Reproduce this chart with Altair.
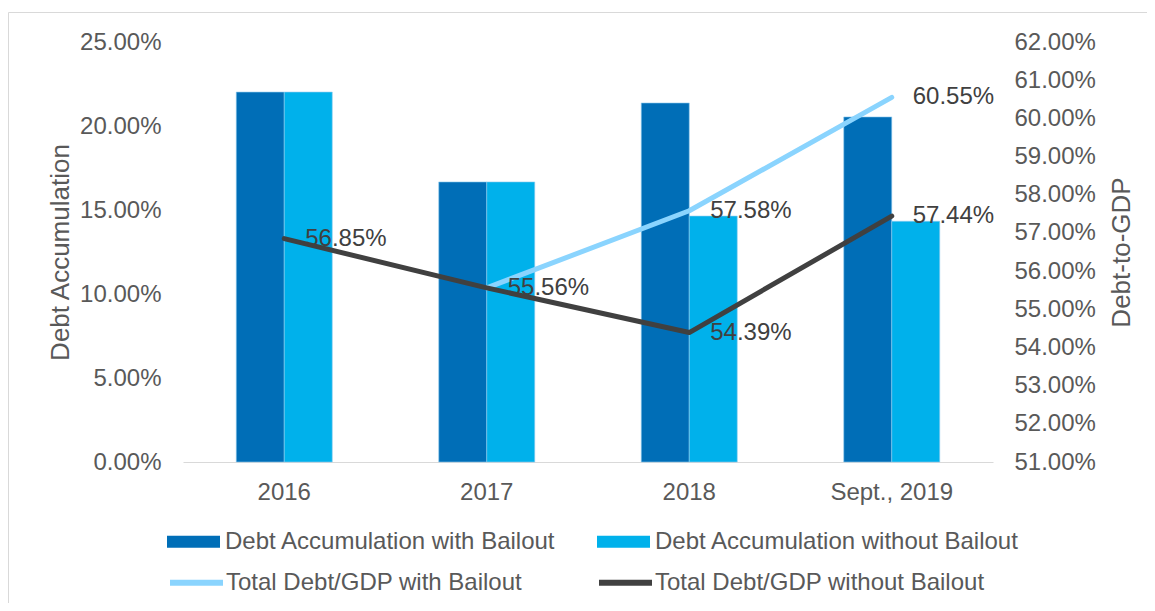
import altair as alt
import pandas as pd

# ---------------- data ----------------
categories = ["2016", "2017", "2018", "Sept., 2019"]
bar_series = ["Debt Accumulation with Bailout", "Debt Accumulation without Bailout"]
line_series = ["Total Debt/GDP with Bailout", "Total Debt/GDP without Bailout"]

debt_with_bailout = [0.2202, 0.1667, 0.2137, 0.2054]
debt_without_bailout = [0.2202, 0.1667, 0.1464, 0.1433]

gdp_with_cats = ["2017", "2018", "Sept., 2019"]
gdp_with_bailout = [0.5556, 0.5758, 0.6055]
gdp_without_cats = ["2016", "2017", "2018", "Sept., 2019"]
gdp_without_bailout = [0.5685, 0.5556, 0.5439, 0.5744]

left_ticks = [0.0, 0.05, 0.10, 0.15, 0.20, 0.25]
right_ticks = [0.51, 0.52, 0.53, 0.54, 0.55, 0.56, 0.57, 0.58, 0.59, 0.60, 0.61, 0.62]

bar_colors = ["#006EB7", "#00B1EB"]
line_colors = ["#8AD4FE", "#404040"]

# ---------------- tables ----------------
bar_df = pd.DataFrame(
    [{"cat": c, "series": bar_series[0], "value": v} for c, v in zip(categories, debt_with_bailout)]
    + [{"cat": c, "series": bar_series[1], "value": v} for c, v in zip(categories, debt_without_bailout)]
)
line_df = pd.DataFrame(
    [{"cat": c, "series": line_series[0], "value": v} for c, v in zip(gdp_with_cats, gdp_with_bailout)]
    + [{"cat": c, "series": line_series[1], "value": v} for c, v in zip(gdp_without_cats, gdp_without_bailout)]
)
label_df = line_df.drop_duplicates(subset=["cat", "value"])
frame_df = pd.DataFrame({"k": [0]})

FONT = "Liberation Sans"
GREY = "#595959"
W, H = 810, 420

x_enc = alt.X(
    "cat:N",
    sort=categories,
    scale=alt.Scale(paddingInner=0.526, paddingOuter=0.263),
    axis=alt.Axis(
        title=None, labelAngle=0, ticks=False, labelPadding=18, labelFontSize=24,
        labelColor=GREY, domainColor="#D9D9D9", domainWidth=1, grid=False,
    ),
)

y_left = alt.Y(
    "value:Q",
    scale=alt.Scale(domain=[0, 0.25], nice=False, zero=True),
    axis=alt.Axis(
        orient="left", format=".2%", values=left_ticks, ticks=False, domain=False, grid=False,
        labelPadding=22, labelFontSize=24, labelColor=GREY,
        title="Debt Accumulation", titleFontSize=26, titleFontWeight="normal", titleColor=GREY,
        titleAngle=270, titleBaseline="alphabetic", titleX=-115, titleY=H / 2,
    ),
)

y_right = alt.Y(
    "value:Q",
    scale=alt.Scale(domain=[0.51, 0.62], nice=False, zero=False),
    axis=alt.Axis(
        orient="right", format=".2%", values=right_ticks, ticks=False, domain=False, grid=False,
        labelPadding=21, labelFontSize=24, labelColor=GREY,
        title="Debt-to-GDP", titleFontSize=26, titleFontWeight="normal", titleColor=GREY,
        titleAngle=270, titleBaseline="alphabetic", titleX=136, titleY=H / 2,
    ),
)

frame = alt.Chart(frame_df).mark_rect(fill="transparent", stroke="#D9D9D9", strokeWidth=1).encode(
    x=alt.value(-174.5), x2=alt.value(3000), y=alt.value(-29.5), y2=alt.value(3000)
)

bars = alt.Chart(bar_df).mark_bar(stroke="#8FCBEF", strokeWidth=0.6).encode(
    x=x_enc,
    xOffset=alt.XOffset("series:N", sort=bar_series),
    y=y_left,
    color=alt.Color(
        "series:N",
        scale=alt.Scale(domain=bar_series, range=bar_colors),
        legend=alt.Legend(
            title=None, orient="none", direction="horizontal", legendX=-16, legendY=473,
            symbolType="M-1,-0.23H1V0.23H-1Z", symbolSize=2809, symbolStrokeWidth=0,
            labelFontSize=24, labelColor=GREY, labelOffset=5, columnPadding=41,
            labelLimit=500, padding=0,
        ),
    ),
)

line_color = alt.Color(
    "series:N",
    scale=alt.Scale(domain=line_series, range=line_colors),
    legend=alt.Legend(
        title=None, orient="none", direction="horizontal", legendX=-16, legendY=511,
        symbolType="stroke", symbolSize=2809, symbolStrokeWidth=6,
        labelFontSize=24, labelColor=GREY, labelOffset=0, columnPadding=64,
        labelLimit=500, padding=0,
    ),
)

light_line = alt.Chart(line_df).transform_filter(
    alt.datum.series == line_series[0]
).mark_line(strokeWidth=5, strokeCap="round", strokeJoin="round").encode(
    x=x_enc, y=y_right, color=line_color
)

dark_line = alt.Chart(line_df).transform_filter(
    alt.datum.series == line_series[1]
).mark_line(strokeWidth=5, strokeCap="round", strokeJoin="round").encode(
    x=x_enc, y=y_right, color=line_color
)

labels = alt.Chart(label_df).mark_text(
    align="left", baseline="middle", dx=21, fontSize=24, color="#404040", font=FONT
).encode(
    x=x_enc, y=y_right, text=alt.Text("value:Q", format=".2%")
)

lines = alt.layer(light_line, dark_line, labels)

chart = alt.layer(frame, bars, lines).resolve_scale(
    y="independent", color="independent"
).properties(
    width=W,
    height=H,
    autosize=alt.AutoSizeParams(type="none"),
    padding={"left": 175, "top": 34, "right": 154, "bottom": 141},
).configure(
    font=FONT,
).configure_view(
    stroke=None,
).configure_axis(
    labelFont=FONT, titleFont=FONT,
).configure_legend(
    labelFont=FONT,
)

chart.save("out.html", embed_options={"renderer": "svg", "actions": False})
